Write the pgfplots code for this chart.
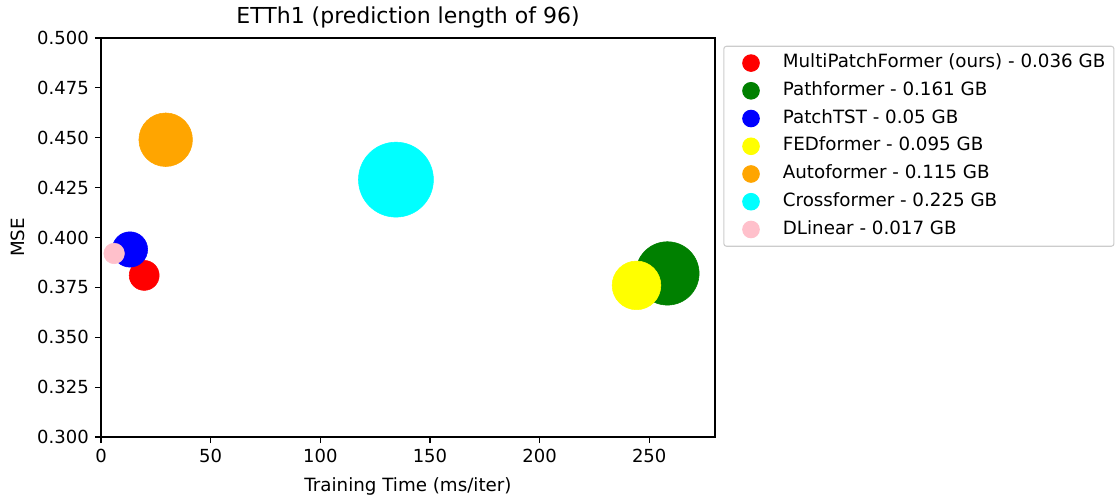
\documentclass[border=0pt]{standalone}
\usepackage{pgfplots}
\pgfplotsset{compat=1.18}
\usepackage{fontspec}
\setmainfont{DejaVu Sans}
\definecolor{mplgreen}{rgb}{0,0.5,0}
\definecolor{mplorange}{rgb}{1,0.647,0}
\definecolor{mplpink}{rgb}{1,0.753,0.796}
\definecolor{mplyellow}{rgb}{1,1,0}
\definecolor{mplcyan}{rgb}{0,1,1}
\begin{document}
\fontsize{13.5}{16}\selectfont
\begin{tikzpicture}
\begin{axis}[
  name=ax,
  scale only axis,
  width=460.5pt, height=299.25pt,
  xmin=0, xmax=280, ymin=0.3, ymax=0.5,
  xtick={0,50,100,150,200,250},
  ytick={0.300,0.325,0.350,0.375,0.400,0.425,0.450,0.475,0.500},
  yticklabel style={/pgf/number format/.cd,fixed,fixed zerofill,precision=3},
  /pgf/number format/assume math mode=true,
  tick align=outside, tick pos=left,
  major tick length=4.5pt,
  axis line style={line width=0.9pt},
  every tick/.style={line width=0.9pt, black},
  font=\fontsize{13.5}{16}\selectfont,
  title={ETTh1 (prediction length of 96)},
  title style={font=\fontsize{16.5}{19}\selectfont, yshift=-3pt},
  xlabel={Training Time (ms/iter)},
  xlabel style={font=\fontsize{13.7}{16}\selectfont, yshift=-2pt},
  ylabel={MSE},
  ylabel style={font=\fontsize{13.7}{16}\selectfont},
  clip=false,
  legend cell align=left,
  legend style={
    at={(rel axis cs:1,1)}, anchor=north west,
    xshift=6.2pt, yshift=-5.8pt,
    draw=black!20, rounded corners=2pt, line width=0.8pt,
    inner xsep=0pt, inner ysep=6pt,
    row sep=7.6pt,
    nodes={inner sep=0pt, text height=10pt, text depth=3pt, anchor=west},
    /tikz/every odd column/.append style={column sep=3.5pt},
    font=\fontsize{13.7}{16}\selectfont,
  },
  legend image code/.code={
    \path (0pt,0pt) (40pt,0pt);
    \fill (20pt,0pt) circle (6.2pt);
  },
]
\addplot[only marks, mark=*, color=red, mark size=11.24pt] coordinates {(19.7,0.381)};
\addlegendentry{MultiPatchFormer (ours) - 0.036 GB\rule{6.5pt}{0pt}}
\addplot[only marks, mark=*, color=mplgreen, mark size=23.77pt] coordinates {(258.3,0.382)};
\addlegendentry{Pathformer - 0.161 GB}
\addplot[only marks, mark=*, color=blue, mark size=13.25pt] coordinates {(13.2,0.394)};
\addlegendentry{PatchTST - 0.05 GB}
\addplot[only marks, mark=*, color=mplyellow, mark size=18.26pt] coordinates {(244.2,0.376)};
\addlegendentry{FEDformer - 0.095 GB}
\addplot[only marks, mark=*, color=mplorange, mark size=20.09pt] coordinates {(29.5,0.449)};
\addlegendentry{Autoformer - 0.115 GB}
\addplot[only marks, mark=*, color=mplcyan, mark size=28.1pt] coordinates {(134.5,0.429)};
\addlegendentry{Crossformer - 0.225 GB}
\addplot[only marks, mark=*, color=mplpink, mark size=7.73pt] coordinates {(6.0,0.392)};
\addlegendentry{DLinear - 0.017 GB}
\end{axis}
\path[use as bounding box] ([xshift=-75.75pt,yshift=-47.25pt]ax.south west) rectangle ([xshift=300pt,yshift=28.5pt]ax.north east);
\end{tikzpicture}
\end{document}
